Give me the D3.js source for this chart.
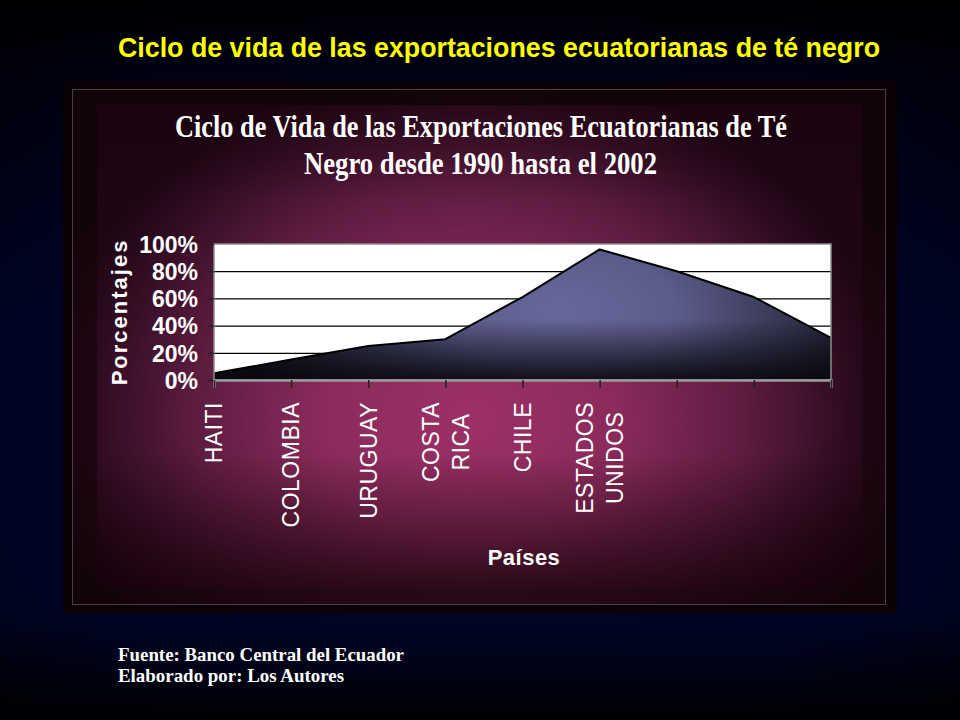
<!DOCTYPE html>
<html>
<head>
<meta charset="utf-8">
<script src="https://cdn.jsdelivr.net/npm/d3@7"></script>
<style>
  body { margin: 0; background: #000; }
  svg { display: block; }
</style>
</head>
<body>
<script>
// datos
var paises = ["HAITI", "COLOMBIA", "URUGUAY", "COSTA\nRICA", "CHILE", "ESTADOS\nUNIDOS", "", "", ""];
var porcentajes = [5, 15, 25, 30, 61, 96, 80, 61, 31];
var yTicks = [0, 20, 40, 60, 80, 100];

var titulo = "Ciclo de vida de las exportaciones ecuatorianas de té negro";
var tituloGrafico = ["Ciclo de Vida de las Exportaciones Ecuatorianas de Té", "Negro desde 1990 hasta el 2002"];
var notas = ["Fuente: Banco Central del Ecuador", "Elaborado por: Los Autores"];

var W = 960, H = 720;
var plot = {left: 214, right: 831, top: 244, bottom: 380};

var svg = d3.select("body").append("svg")
  .attr("width", W)
  .attr("height", H);
var defs = svg.append("defs");

function addGradient(tag, id, attrs, stops) {
  var g = defs.append(tag).attr("id", id);
  Object.keys(attrs).forEach(function(k) { g.attr(k, attrs[k]); });
  stops.forEach(function(s) {
    g.append("stop")
      .attr("offset", s[0])
      .attr("stop-color", s[1])
      .attr("stop-opacity", s.length > 2 ? s[2] : 1);
  });
  return "url(#" + id + ")";
}

var bgSlide = addGradient("linearGradient", "bgSlide", {x1: 0, y1: 0, x2: 0, y2: 1},
  [[0, "#000004"], [0.1, "#000218"], [0.5, "#00052c"], [0.85, "#00052e"], [1, "#000004"]]);
var bgEdge = addGradient("radialGradient", "bgEdge", {cx: 0.5, cy: 0.55, r: 0.7},
  [[0, "#000000", 0], [0.7, "#000000", 0.15], [1, "#000000", 0.6]]);
var frameFill = addGradient("radialGradient", "frameFill", {cx: 0.5, cy: 0.6, r: 0.6},
  [[0, "#4a1432"], [1, "#120309"]]);
var innerFill = addGradient("radialGradient", "innerFill",
  {gradientUnits: "userSpaceOnUse", cx: 470, cy: 420, r: 420,
   gradientTransform: "translate(470,420) scale(1,0.85) translate(-470,-420)"},
  [[0, "#9c3167"], [0.35, "#8a2b5b"], [0.65, "#5e1c41"], [0.9, "#2e0b20"], [1, "#1e0614"]]);
var innerShade = addGradient("linearGradient", "innerShade", {x1: 0, y1: 0, x2: 0, y2: 1},
  [[0, "#140008", 0.35], [0.2, "#140008", 0], [0.72, "#140008", 0], [1, "#140008", 0.75]]);
var areaFill = addGradient("radialGradient", "areaFill",
  {gradientUnits: "userSpaceOnUse", cx: 560, cy: 310, r: 330,
   gradientTransform: "translate(560,310) scale(1,0.5) translate(-560,-310)"},
  [[0, "#67679a"], [0.35, "#5c5c8c"], [0.7, "#34344f"], [1, "#0f0f19"]]);
var areaShade = addGradient("linearGradient", "areaShade",
  {gradientUnits: "userSpaceOnUse", x1: 0, y1: 320, x2: 0, y2: 380},
  [[0, "#08080e", 0], [1, "#08080e", 0.9]]);

// fondo de la diapositiva
svg.append("rect").attr("width", W).attr("height", H).attr("fill", bgSlide);
svg.append("rect").attr("width", W).attr("height", H).attr("fill", bgEdge);

// marco del grafico
svg.append("rect")
  .attr("x", 63).attr("y", 81)
  .attr("width", 834).attr("height", 533)
  .attr("fill", "#0b0207");
svg.append("rect")
  .attr("x", 72.5).attr("y", 89.5)
  .attr("width", 813).attr("height", 515)
  .attr("fill", frameFill)
  .attr("stroke", "#4e3c46")
  .attr("stroke-width", 1);
svg.append("rect")
  .attr("x", 97).attr("y", 105)
  .attr("width", 765).attr("height", 483)
  .attr("fill", innerFill);
svg.append("rect")
  .attr("x", 97).attr("y", 105)
  .attr("width", 765).attr("height", 483)
  .attr("fill", innerShade);

// titulos
svg.append("text")
  .attr("x", 118).attr("y", 57)
  .attr("textLength", 762)
  .attr("lengthAdjust", "spacingAndGlyphs")
  .style("font", "bold 27px 'Liberation Sans', Arial, sans-serif")
  .attr("fill", "#ffff00")
  .text(titulo);

svg.selectAll(".titulo-grafico")
  .data(tituloGrafico)
  .enter().append("text")
  .attr("class", "titulo-grafico")
  .attr("x", function(d, i) { return i ? 304 : 175; })
  .attr("y", function(d, i) { return 137 + i * 37; })
  .attr("textLength", function(d, i) { return i ? 353 : 612; })
  .attr("lengthAdjust", "spacingAndGlyphs")
  .style("font", "bold 32px 'Liberation Serif', 'Times New Roman', serif")
  .attr("fill", "#ffffff")
  .text(function(d) { return d; });

svg.selectAll(".nota")
  .data(notas)
  .enter().append("text")
  .attr("class", "nota")
  .attr("x", 118)
  .attr("y", function(d, i) { return 661 + i * 21; })
  .attr("textLength", function(d, i) { return i ? 226 : 286; })
  .attr("lengthAdjust", "spacingAndGlyphs")
  .style("font", "bold 19px 'Liberation Serif', 'Times New Roman', serif")
  .attr("fill", "#ffffff")
  .text(function(d) { return d; });

// escalas
var x = d3.scaleLinear()
  .domain([0, paises.length - 1])
  .range([plot.left, plot.right]);
var y = d3.scaleLinear()
  .domain([0, 100])
  .range([plot.bottom, plot.top]);

// area de trazado
svg.append("rect")
  .attr("x", plot.left).attr("y", plot.top)
  .attr("width", plot.right - plot.left)
  .attr("height", plot.bottom - plot.top)
  .attr("fill", "#ffffff");

svg.append("g")
  .selectAll("line")
  .data(yTicks.filter(function(d) { return d > 0 && d < 100; }))
  .enter().append("line")
  .attr("x1", plot.left).attr("x2", plot.right)
  .attr("y1", function(d) { return y(d) + 0.5; })
  .attr("y2", function(d) { return y(d) + 0.5; })
  .attr("stroke", "#000000")
  .attr("stroke-width", 1.2);

var area = d3.area()
  .x(function(d, i) { return x(i); })
  .y0(y(0))
  .y1(function(d) { return y(d); });
var line = d3.line()
  .x(function(d, i) { return x(i); })
  .y(function(d) { return y(d); });

svg.append("path").datum(porcentajes).attr("d", area).attr("fill", areaFill);
svg.append("path").datum(porcentajes).attr("d", area).attr("fill", areaShade);
svg.append("path")
  .datum(porcentajes)
  .attr("d", line)
  .attr("fill", "none")
  .attr("stroke", "#000000")
  .attr("stroke-width", 2)
  .attr("stroke-linejoin", "round");

// borde del area de trazado
svg.append("rect")
  .attr("x", plot.left).attr("y", plot.top)
  .attr("width", plot.right - plot.left)
  .attr("height", plot.bottom - plot.top)
  .attr("fill", "none")
  .attr("stroke", "#8c8c8c")
  .attr("stroke-width", 1.5);

// eje Y
var yAxis = svg.append("g")
  .attr("transform", "translate(" + plot.left + ",0)")
  .call(d3.axisLeft(y)
    .tickValues(yTicks)
    .tickSize(6)
    .tickPadding(10)
    .tickFormat(function(d) { return d + "%"; }));
yAxis.select(".domain").remove();
yAxis.selectAll(".tick line").attr("stroke", "#222222").attr("stroke-width", 1.5);
yAxis.selectAll(".tick text")
  .attr("fill", "#ffffff")
  .attr("dy", "0.36em")
  .style("font", "bold 23px 'Liberation Sans', Arial, sans-serif");

// eje X
var xAxis = svg.append("g")
  .attr("transform", "translate(0," + plot.bottom + ")")
  .call(d3.axisBottom(x)
    .tickValues(d3.range(paises.length))
    .tickSize(8)
    .tickFormat(""));
xAxis.select(".domain")
  .attr("stroke", "#9a9a9a")
  .attr("stroke-width", 2.5);
xAxis.selectAll(".tick line").attr("stroke", "#222222").attr("stroke-width", 1.5);

// etiquetas de categorias, giradas
var etiquetas = svg.append("g")
  .selectAll("g")
  .data(paises)
  .enter().append("g")
  .attr("transform", function(d, i) { return "translate(" + x(i) + ",402) rotate(-90)"; });

etiquetas.each(function(d) {
  var g = d3.select(this);
  var lineas = d ? d.split("\n") : [];
  var n = lineas.length;
  var textos = g.selectAll("text")
    .data(lineas)
    .enter().append("text")
    .attr("y", function(l, j) { return (j - (n - 1) / 2) * 30; })
    .attr("dy", "0.36em")
    .attr("text-anchor", "middle")
    .attr("fill", "#ffffff")
    .style("font", "23px 'Liberation Sans', Arial, sans-serif")
    .style("letter-spacing", "0.5px")
    .text(function(l) { return l; });
  var largo = 0;
  textos.each(function() { largo = Math.max(largo, this.getComputedTextLength()); });
  textos.attr("x", -largo / 2);
});

// titulos de ejes
svg.append("text")
  .attr("transform", "translate(127,312) rotate(-90)")
  .attr("text-anchor", "middle")
  .attr("fill", "#ffffff")
  .style("font", "bold 22px 'Liberation Sans', Arial, sans-serif")
  .style("letter-spacing", "2px")
  .text("Porcentajes");

svg.append("text")
  .attr("x", 524).attr("y", 565)
  .attr("text-anchor", "middle")
  .attr("fill", "#ffffff")
  .style("font", "bold 22px 'Liberation Sans', Arial, sans-serif")
  .style("letter-spacing", "0.5px")
  .text("Países");
</script>
</body>
</html>
